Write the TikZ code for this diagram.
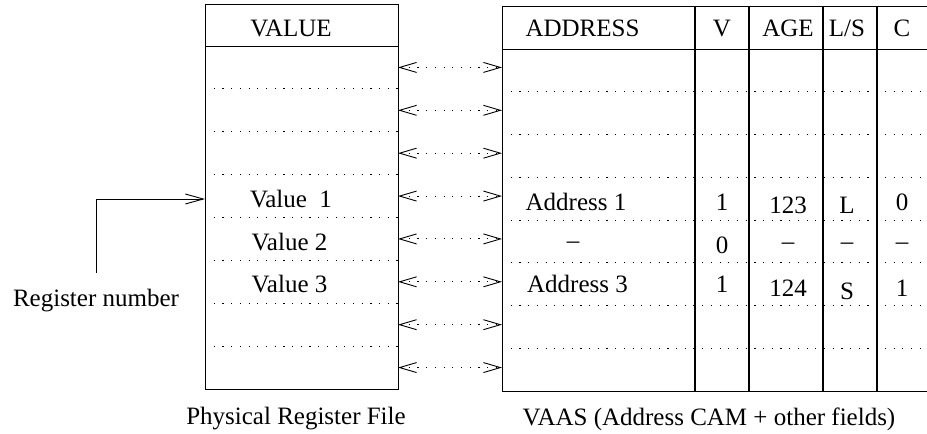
\documentclass[tikz,border=0pt]{standalone}
\usepackage{fontspec}
\setmainfont{Liberation Serif}
\usetikzlibrary{arrows.meta}
\begin{document}
\begin{tikzpicture}[x=1pt,y=-1pt,
  lbl/.style={font=\fontsize{25}{30}\selectfont, inner sep=0pt, anchor=base},
  rowsep/.style={line width=0.9pt, dash pattern=on 1.2pt off 7.5pt},
  frame/.style={line width=1pt},
  col/.style={line width=1.7pt},
  barb/.style={Straight Barb[length=17pt,width=10pt,line width=0.9pt]},
  link/.style={line width=0.9pt, dash pattern=on 1.2pt off 7.5pt, {Straight Barb[length=17pt,width=10pt,line width=0.9pt]}-{Straight Barb[length=17pt,width=10pt,line width=0.9pt]}},
  regarrow/.style={line width=0.9pt, -{Straight Barb[length=18pt,width=10pt,line width=0.9pt]}}
]
\useasboundingbox (0,0) rectangle (927,434);

% ---------- Physical register file ----------
\draw[frame] (205,4) rectangle (398,389);
\draw[frame] (205,46) -- (398,46);
\foreach \k in {1,...,7}{
  \draw[rowsep] (205,46+\k*42.875) -- (398,46+\k*42.875);
}
\node[lbl] (valhdr) at (291,36) {VALUE};
\node[lbl] (val1) at (291,207.5) {Value\ \ 1};
\node[lbl] (val2) at (289.5,250) {Value 2};
\node[lbl] (val3) at (289.5,292.5) {Value 3};
\node[lbl] (prf) at (296,424) {Physical Register File};

% ---------- VAAS ----------
\draw[frame] (927,6) -- (502,6) -- (502,391) -- (927,391);
\draw[frame] (502,49) -- (927,49);
\foreach \cx in {695,749,823,877}{
  \draw[col] (\cx,6) -- (\cx,391);
}
\foreach \k in {1,...,7}{
  \draw[rowsep] (502,49+\k*42.75) -- (927,49+\k*42.75);
}
\node[lbl] (hA) at (582.5,36.5) {ADDRESS};
\node[lbl] (hV) at (722,36.5) {V};
\node[lbl] (hAGE) at (788,36.5) {AGE};
\node[lbl] (hLS) at (847,36.5) {L/S};
\node[lbl] (hC) at (902,36.5) {C};

\node[lbl] (a1) at (576,210) {Address 1};
\node[lbl] (v1) at (722,210) {1};
\node[lbl] (g1) at (788,213) {123};
\node[lbl] (l1) at (847,213) {L};
\node[lbl] (c1) at (902,210) {0};

\node[lbl] (a2) at (573,248) {–};
\node[lbl] (v2) at (722,253) {0};
\node[lbl] (g2) at (788,249) {–};
\node[lbl] (l2) at (847,249) {–};
\node[lbl] (c2) at (902,249) {–};

\node[lbl] (a3) at (577.5,292.5) {Address 3};
\node[lbl] (v3) at (722,292.5) {1};
\node[lbl] (g3) at (788,296.5) {124};
\node[lbl] (l3) at (847,299) {S};
\node[lbl] (c3) at (902,296.5) {1};

\node[lbl] (vaas) at (709,425) {VAAS (Address CAM + other fields)};

% ---------- links ----------
\foreach \i in {1,...,8}{
  \coordinate (L\i) at (398,46+\i*42.875-21.44);
  \coordinate (R\i) at (502,46+\i*42.875-21.44);
  \draw[link] (L\i) -- (R\i);
}

% ---------- register number ----------
\node[lbl] (reg) at (96,306) {Register number};
\coordinate (regtop) at (96,273);
\coordinate (regin) at (205,199);
\draw[regarrow] (regtop) |- (regin);
\end{tikzpicture}
\end{document}
